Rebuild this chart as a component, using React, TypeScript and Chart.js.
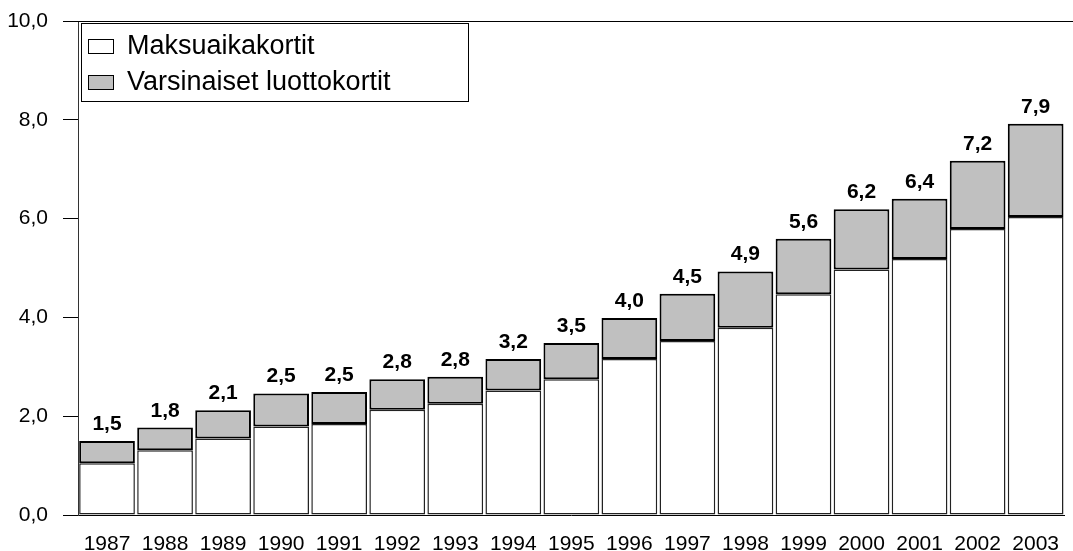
import React, { useEffect, useRef } from "react";
import { Chart, registerables } from "chart.js";

Chart.register(...registerables);

const years = ["1987","1988","1989","1990","1991","1992","1993","1994","1995","1996","1997","1998","1999","2000","2001","2002","2003"];
const maksuaikakortit = [1.05,1.31,1.55,1.79,1.84,2.13,2.25,2.52,2.75,3.16,3.52,3.79,4.47,4.97,5.18,5.79,6.03];
const luottokortit = [0.45,0.46,0.57,0.67,0.65,0.62,0.55,0.64,0.73,0.83,0.96,1.14,1.12,1.22,1.22,1.38,1.89];
const seriesNames = ["Maksuaikakortit", "Varsinaiset luottokortit"];
const yTicks = [0, 2, 4, 6, 8, 10];

const FONT = "'Liberation Sans', Arial, sans-serif";
const fmt = (v: number) => (Math.round(v * 10 + 1e-6) / 10).toFixed(1).replace(".", ",");

export default function App() {
  const ref = useRef<HTMLCanvasElement | null>(null);
  useEffect(() => {
    if (!ref.current) return;
    const labelsPlugin = {
      id: "totals",
      afterDatasetsDraw(chart: any) {
        const ctx = chart.ctx;
        const meta = chart.getDatasetMeta(1);
        ctx.save();
        ctx.font = `bold 21px ${FONT}`;
        ctx.fillStyle = "#000";
        ctx.textAlign = "center";
        ctx.textBaseline = "alphabetic";
        meta.data.forEach((bar: any, i: number) => {
          const total = maksuaikakortit[i] + luottokortit[i];
          ctx.fillText(fmt(total), bar.x, bar.y - 11);
        });
        ctx.restore();
      },
      afterDraw(chart: any) {
        const ctx = chart.ctx;
        const a = chart.chartArea;
        ctx.save();
        ctx.strokeStyle = "#000";
        ctx.lineWidth = 1;
        ctx.beginPath();
        ctx.moveTo(a.left, a.top + 0.5);
        ctx.lineTo(chart.width, a.top + 0.5);
        ctx.stroke();
        const lx = a.left + 3, ly = a.top + 2, lw = 387, lh = 78;
        ctx.fillStyle = "#fff";
        ctx.fillRect(lx, ly, lw, lh);
        ctx.strokeStyle = "#000";
        ctx.strokeRect(lx + 0.5, ly + 0.5, lw, lh);
        const fills = ["#ffffff", "#c0c0c0"];
        const rowsY = [ly + 23, ly + 59];
        ctx.font = `27px ${FONT}`;
        ctx.textBaseline = "middle";
        ctx.textAlign = "left";
        seriesNames.forEach((n, i) => {
          ctx.fillStyle = fills[i];
          ctx.fillRect(lx + 7, rowsY[i] - 7, 25, 14);
          ctx.strokeStyle = "#000";
          ctx.lineWidth = 1;
          ctx.strokeRect(lx + 7.5, rowsY[i] - 6.5, 25, 14);
          ctx.fillStyle = "#000";
          ctx.fillText(n, lx + 46, rowsY[i] + 1);
        });
        ctx.restore();
      },
    };
    const chart = new Chart(ref.current, {
      type: "bar",
      data: {
        labels: years,
        datasets: [
          {
            label: seriesNames[0],
            data: maksuaikakortit,
            backgroundColor: "#ffffff",
            borderColor: "#222",
            borderWidth: 1.5,
            borderSkipped: false,
            barPercentage: 0.96,
            categoryPercentage: 1,
          },
          {
            label: seriesNames[1],
            data: luottokortit,
            backgroundColor: "#c0c0c0",
            borderColor: "#000",
            borderWidth: 2,
            borderSkipped: false,
            barPercentage: 0.96,
            categoryPercentage: 1,
          },
        ],
      },
      options: {
        responsive: false,
        animation: false,
        layout: { padding: { top: 21, right: 0, left: 0, bottom: 0 } },
        plugins: { legend: { display: false }, tooltip: { enabled: false } },
        scales: {
          x: {
            stacked: true,
            grid: { display: false, drawTicks: false },
            border: { display: true, color: "#000", width: 1 },
            ticks: { color: "#000", font: { family: FONT, size: 21 }, padding: 17, maxRotation: 0, autoSkip: false },
            afterFit(s: any) { s.height = 36; },
          },
          y: {
            stacked: true,
            min: 0,
            max: 10,
            afterBuildTicks(s: any) { s.ticks = yTicks.map((v) => ({ value: v })); },
            ticks: { color: "#000", font: { family: FONT, size: 21 }, padding: 15, callback: (v: any) => Number(v).toFixed(1).replace(".", ",") },
            grid: { drawOnChartArea: false, drawTicks: true, tickLength: 15, color: "#000" },
            border: { display: true, color: "#333", width: 1 },
            afterFit(s: any) { s.width = 78; s.paddingTop = 0; s.paddingBottom = 0; },
          },
        },
      },
      plugins: [labelsPlugin],
    });
    return () => chart.destroy();
  }, []);
  return (
    <div style={{ position: "absolute", left: 0, top: 0, width: 1073, height: 551, overflow: "hidden", background: "#fff" }}>
      <canvas ref={ref} width={1076} height={551} style={{ display: "block" }} />
    </div>
  );
}
